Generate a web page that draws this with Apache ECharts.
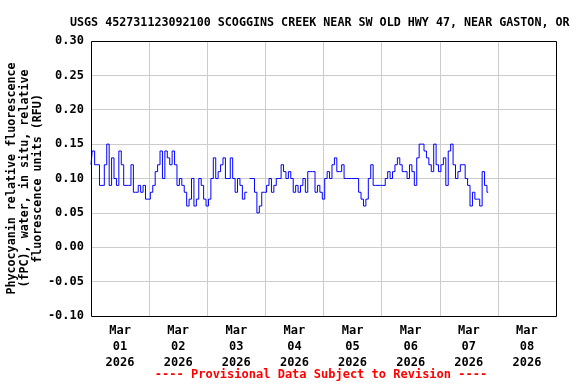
<!DOCTYPE html>
<html>
<head>
<meta charset="utf-8">
<script src="https://cdn.jsdelivr.net/npm/echarts@6/dist/echarts.min.js"></script>
<style>html,body{margin:0;padding:0;background:#fff}#c{width:576px;height:384px}</style>
</head>
<body>
<div id="c"></div>
<script>
// Hourly readings (RFU), starting 2026-03-01 00:00, one value per hour
const day1 = [0.12,0.14,0.12,0.12,0.09,0.09,0.12,0.15,0.09,0.13,0.10,0.09,0.14,0.12,0.09,0.09,0.09,0.12,0.08,0.08,0.09,0.08,0.09,0.07];
const day2 = [0.07,0.08,0.09,0.11,0.12,0.14,0.10,0.14,0.13,0.12,0.14,0.12,0.09,0.10,0.09,0.08,0.06,0.07,0.10,0.06,0.07,0.10,0.09,0.07];
const day3 = [0.06,0.07,0.10,0.13,0.10,0.11,0.12,0.13,0.10,0.10,0.13,0.10,0.08,0.10,0.09,0.07,0.08,null,0.10,0.10,0.08,0.05,0.06,0.08];
const day4 = [0.08,0.09,0.10,0.08,0.09,0.10,0.10,0.12,0.11,0.10,0.11,0.10,0.08,0.09,0.08,0.09,0.10,0.08,0.11,0.11,0.11,0.08,0.09,0.08];
const day5 = [0.07,0.10,0.11,0.10,0.12,0.13,0.11,0.11,0.12,0.10,0.10,0.10,0.10,0.10,0.10,0.08,0.07,0.06,0.07,0.10,0.12,0.09,0.09,0.09];
const day6 = [0.09,0.09,0.10,0.11,0.10,0.11,0.12,0.13,0.12,0.11,0.11,0.10,0.12,0.11,0.09,0.13,0.15,0.15,0.14,0.13,0.12,0.11,0.15,0.12];
const day7 = [0.11,0.12,0.13,0.09,0.14,0.15,0.12,0.10,0.11,0.12,0.12,0.10,0.09,0.06,0.08,0.07,0.07,0.06,0.11,0.09,0.08];
const days = [day1, day2, day3, day4, day5, day6, day7];
const dayLabels = ['Mar\n01\n2026','Mar\n02\n2026','Mar\n03\n2026','Mar\n04\n2026','Mar\n05\n2026','Mar\n06\n2026','Mar\n07\n2026','Mar\n08\n2026'];
const yTicks = { min: -0.10, max: 0.30, step: 0.05 };
const titleText = 'USGS 452731123092100 SCOGGINS CREEK NEAR SW OLD HWY 47, NEAR GASTON, OR';
const yName = 'Phycocyanin relative fluorescence\n(fPC), water, in situ, relative\nfluorescence units (RFU)';
const footer = '---- Provisional Data Subject to Revision ----';

const series = [];
days.forEach((arr, d) => arr.forEach((v, h) => series.push([d * 24 + h, v])));

const font = 'DejaVu Sans Mono';
const chart = echarts.init(document.getElementById('c'), null, { renderer: 'canvas' });
chart.setOption({
  animation: false,
  backgroundColor: '#fff',
  title: {
    text: titleText, left: 65, top: 12,
    textStyle: { fontFamily: font, fontSize: 11.7, fontWeight: 'bold', color: '#000' }
  },
  grid: { left: 91, right: 20, top: 41, bottom: 68, show: false, containLabel: false, outerBoundsMode: 'none' },
  xAxis: [{
    type: 'value', min: 0, max: 192, interval: 24,
    axisLine: { show: false }, axisTick: { show: false }, axisLabel: { show: false },
    splitLine: { show: true, lineStyle: { color: '#cccccc', width: 1 } }
  }, {
    type: 'category', data: dayLabels, boundaryGap: true, position: 'bottom',
    axisLine: { show: false }, axisTick: { show: false }, splitLine: { show: false },
    axisLabel: { interval: 0, margin: 7, lineHeight: 16, fontFamily: font, fontSize: 12, fontWeight: 'bold', color: '#000' }
  }],
  yAxis: {
    type: 'value', min: yTicks.min, max: yTicks.max, interval: yTicks.step,
    name: yName, nameLocation: 'middle', nameGap: 47, nameRotate: 90, nameMoveOverlap: false,
    nameTextStyle: { fontFamily: font, fontSize: 11.7, fontWeight: 'bold', color: '#000', lineHeight: 13 },
    axisLine: { show: false }, axisTick: { show: false },
    axisLabel: { margin: 7, formatter: v => v.toFixed(2), fontFamily: font, fontSize: 12, fontWeight: 'bold', color: '#000' },
    splitLine: { show: true, lineStyle: { color: '#cccccc', width: 1 } }
  },
  graphic: [
    { type: 'rect', shape: { x: 91.5, y: 41.5, width: 465, height: 275 }, style: { fill: 'none', stroke: '#000', lineWidth: 1 }, z: 100 },
    { type: 'text', x: 321, y: 375, style: { text: footer, fill: '#ff0000', font: 'bold 12px "DejaVu Sans Mono"', textAlign: 'center', textVerticalAlign: 'middle' } }
  ],
  series: [{
    type: 'line', data: series, xAxisIndex: 0, showSymbol: false, step: 'middle',
    connectNulls: false,
    lineStyle: { color: '#0000ff', width: 1 }, itemStyle: { color: '#0000ff' }
  }]
});
</script>
</body>
</html>
